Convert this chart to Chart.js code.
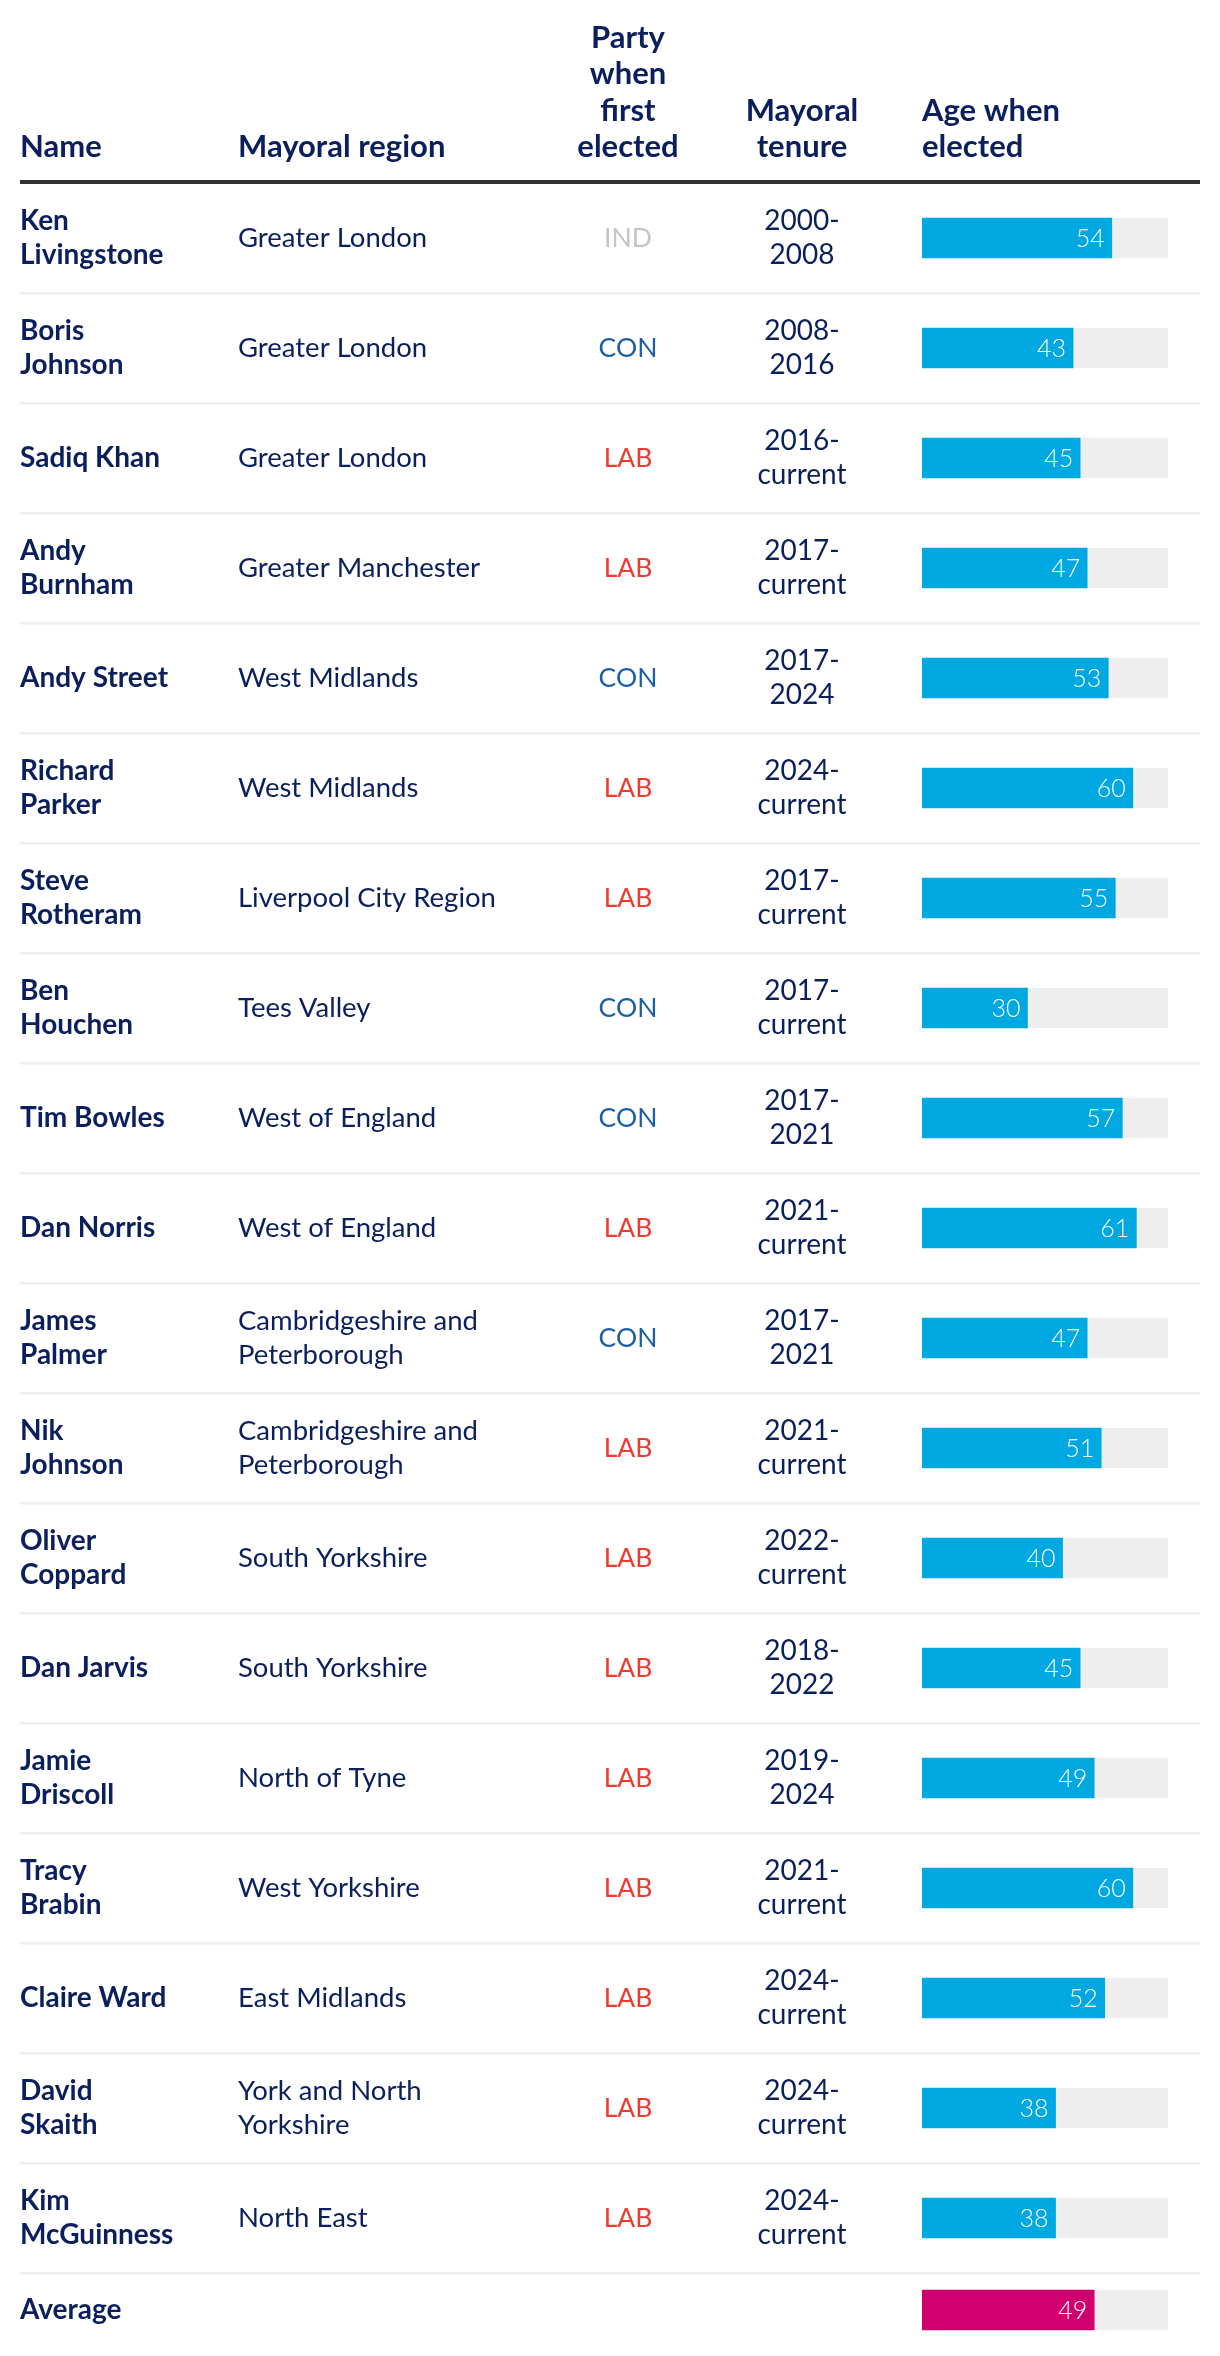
<!DOCTYPE html>
<html>
<head>
<meta charset="utf-8">
<script src="https://cdn.jsdelivr.net/npm/chart.js@4/dist/chart.umd.min.js"></script>
<style>
  html, body { margin: 0; padding: 0; background: #ffffff; }
  canvas { display: block; }
</style>
</head>
<body>
<canvas id="c" width="1220" height="2356"></canvas>
<script>
// ---------------- DATA ----------------
const names = [
  ["Ken", "Livingstone"], ["Boris", "Johnson"], ["Sadiq Khan"], ["Andy", "Burnham"],
  ["Andy Street"], ["Richard", "Parker"], ["Steve", "Rotheram"], ["Ben", "Houchen"],
  ["Tim Bowles"], ["Dan Norris"], ["James", "Palmer"], ["Nik", "Johnson"],
  ["Oliver", "Coppard"], ["Dan Jarvis"], ["Jamie", "Driscoll"], ["Tracy", "Brabin"],
  ["Claire Ward"], ["David", "Skaith"], ["Kim", "McGuinness"]
];
const regions = [
  ["Greater London"], ["Greater London"], ["Greater London"], ["Greater Manchester"],
  ["West Midlands"], ["West Midlands"], ["Liverpool City Region"], ["Tees Valley"],
  ["West of England"], ["West of England"], ["Cambridgeshire and", "Peterborough"],
  ["Cambridgeshire and", "Peterborough"], ["South Yorkshire"], ["South Yorkshire"],
  ["North of Tyne"], ["West Yorkshire"], ["East Midlands"], ["York and North", "Yorkshire"],
  ["North East"]
];
const parties = [
  "IND", "CON", "LAB", "LAB", "CON", "LAB", "LAB", "CON", "CON", "LAB",
  "CON", "LAB", "LAB", "LAB", "LAB", "LAB", "LAB", "LAB", "LAB"
];
const tenures = [
  ["2000-", "2008"], ["2008-", "2016"], ["2016-", "current"], ["2017-", "current"],
  ["2017-", "2024"], ["2024-", "current"], ["2017-", "current"], ["2017-", "current"],
  ["2017-", "2021"], ["2021-", "current"], ["2017-", "2021"], ["2021-", "current"],
  ["2022-", "current"], ["2018-", "2022"], ["2019-", "2024"], ["2021-", "current"],
  ["2024-", "current"], ["2024-", "current"], ["2024-", "current"]
];
const ages = [54, 43, 45, 47, 53, 60, 55, 30, 57, 61, 47, 51, 40, 45, 49, 60, 52, 38, 38];
const averageLabel = "Average";
const averageAge = 49;
const ageAxisMax = 70;
const headers = [
  { lines: ["Name"], col: 0 },
  { lines: ["Mayoral region"], col: 1 },
  { lines: ["Party", "when", "first", "elected"], col: 2 },
  { lines: ["Mayoral", "tenure"], col: 3 },
  { lines: ["Age when", "elected"], col: 4 }
];

// ---------------- STYLE / LAYOUT ----------------
const NAVY = "#0b1f5c";
const partyColours = { IND: "#c4c4c4", CON: "#1b5ea6", LAB: "#ee3a2f" };
const BAR = "#00a8e1", AVG = "#d1006f", TRACK = "#eeeeee";
const FONT = "Lato, 'Noto Sans', sans-serif";
const W = 1220, H = 2356;
const ruleY = 182, rowPitch = 110, firstRowCenter = 238;
const plotLeft = 922, plotRight = 1168, tableLeft = 20, tableRight = 1200;
const colX = [20, 238, 628, 802, 922];
const colAlign = ["left", "left", "center", "center", "left"];

const nRows = ages.length;
// row positions on the y scale (index units); the average row sits closer to the last row
const rowPos = ages.map((_, i) => i);
rowPos.push(nRows - 1 + 92 / rowPitch);
const chartTop = firstRowCenter - rowPitch / 2;
const yMin = -0.5;
const yMax = yMin + (H - chartTop) / rowPitch;

const values = ages.concat([averageAge]);
const barColours = ages.map(() => BAR).concat([AVG]);
const points = values.map((v, i) => ({ x: v, y: rowPos[i] }));

// ---------------- PLUGINS ----------------
const trackPlugin = {
  id: "track",
  beforeDatasetsDraw(chart) {
    const { ctx } = chart;
    const xs = chart.scales.x;
    const meta = chart.getDatasetMeta(0);
    ctx.save();
    ctx.fillStyle = TRACK;
    meta.data.forEach(el => {
      const p = el.getProps(["y", "height"], true);
      const x0 = xs.getPixelForValue(0), x1 = xs.getPixelForValue(ageAxisMax);
      ctx.fillRect(x0, p.y - p.height / 2, x1 - x0, p.height);
    });
    ctx.restore();
  }
};

const labelPlugin = {
  id: "vlabels",
  afterDatasetsDraw(chart) {
    const { ctx } = chart;
    const meta = chart.getDatasetMeta(0);
    ctx.save();
    ctx.fillStyle = "#ffffff";
    ctx.font = "300 25px " + FONT;
    ctx.textAlign = "right";
    ctx.textBaseline = "middle";
    meta.data.forEach((el, i) => {
      const p = el.getProps(["x", "y"], true);
      ctx.fillText(String(values[i]), p.x - 7, p.y + 1);
    });
    ctx.restore();
  }
};

function drawLines(ctx, lines, x, cy, lh) {
  const n = lines.length;
  lines.forEach((t, k) => {
    ctx.fillText(t, x, cy + (k - (n - 1) / 2) * lh);
  });
}

const tablePlugin = {
  id: "table",
  afterDraw(chart) {
    const { ctx } = chart;
    const ys = chart.scales.y;
    ctx.save();
    // headers
    ctx.fillStyle = NAVY;
    ctx.font = "bold 31px " + FONT;
    ctx.textBaseline = "alphabetic";
    headers.forEach(h => {
      ctx.textAlign = colAlign[h.col];
      const n = h.lines.length;
      h.lines.forEach((t, k) => {
        ctx.fillText(t, colX[h.col], 157 - (n - 1 - k) * 36.5);
      });
    });
    // header rule
    ctx.fillStyle = "#333333";
    ctx.fillRect(tableLeft, ruleY - 2, tableRight - tableLeft, 4);
    // row separators
    ctx.fillStyle = "#eeeeee";
    for (let i = 0; i < nRows; i++) {
      const y = ys.getPixelForValue(rowPos[i]) + rowPitch / 2;
      ctx.fillRect(tableLeft, y - 1, tableRight - tableLeft, 2.5);
    }
    // rows
    ctx.textBaseline = "middle";
    const lh = 33.5;
    for (let i = 0; i < nRows; i++) {
      const cy = ys.getPixelForValue(rowPos[i]);
      ctx.fillStyle = NAVY;
      ctx.font = "bold 28px " + FONT;
      ctx.textAlign = "left";
      drawLines(ctx, names[i], colX[0], cy, lh);
      ctx.font = "27.5px " + FONT;
      drawLines(ctx, regions[i], colX[1], cy, lh);
      ctx.textAlign = "center";
      ctx.fillStyle = partyColours[parties[i]];
      ctx.font = "26.5px " + FONT;
      ctx.fillText(parties[i], colX[2], cy);
      ctx.fillStyle = NAVY;
      ctx.font = "28px " + FONT;
      drawLines(ctx, tenures[i], colX[3], cy, lh);
    }
    // average row
    const cyA = ys.getPixelForValue(rowPos[nRows]);
    ctx.fillStyle = NAVY;
    ctx.font = "bold 28px " + FONT;
    ctx.textAlign = "left";
    ctx.fillText(averageLabel, colX[0], cyA);
    ctx.restore();
  }
};

// ---------------- CHART ----------------
new Chart(document.getElementById("c"), {
  type: "bar",
  data: {
    datasets: [{
      data: points,
      backgroundColor: barColours,
      borderWidth: 0,
      barThickness: 40
    }]
  },
  options: {
    indexAxis: "y",
    responsive: false,
    animation: false,
    devicePixelRatio: 1,
    layout: { padding: { left: plotLeft, right: W - plotRight, top: chartTop, bottom: 0 } },
    scales: {
      x: { type: "linear", min: 0, max: ageAxisMax, display: false, offset: false },
      y: { type: "linear", min: yMin, max: yMax, reverse: true, display: false, offset: false, grid: { offset: false } }
    },
    plugins: { legend: { display: false }, tooltip: { enabled: false } }
  },
  plugins: [trackPlugin, labelPlugin, tablePlugin]
});
</script>
</body>
</html>
